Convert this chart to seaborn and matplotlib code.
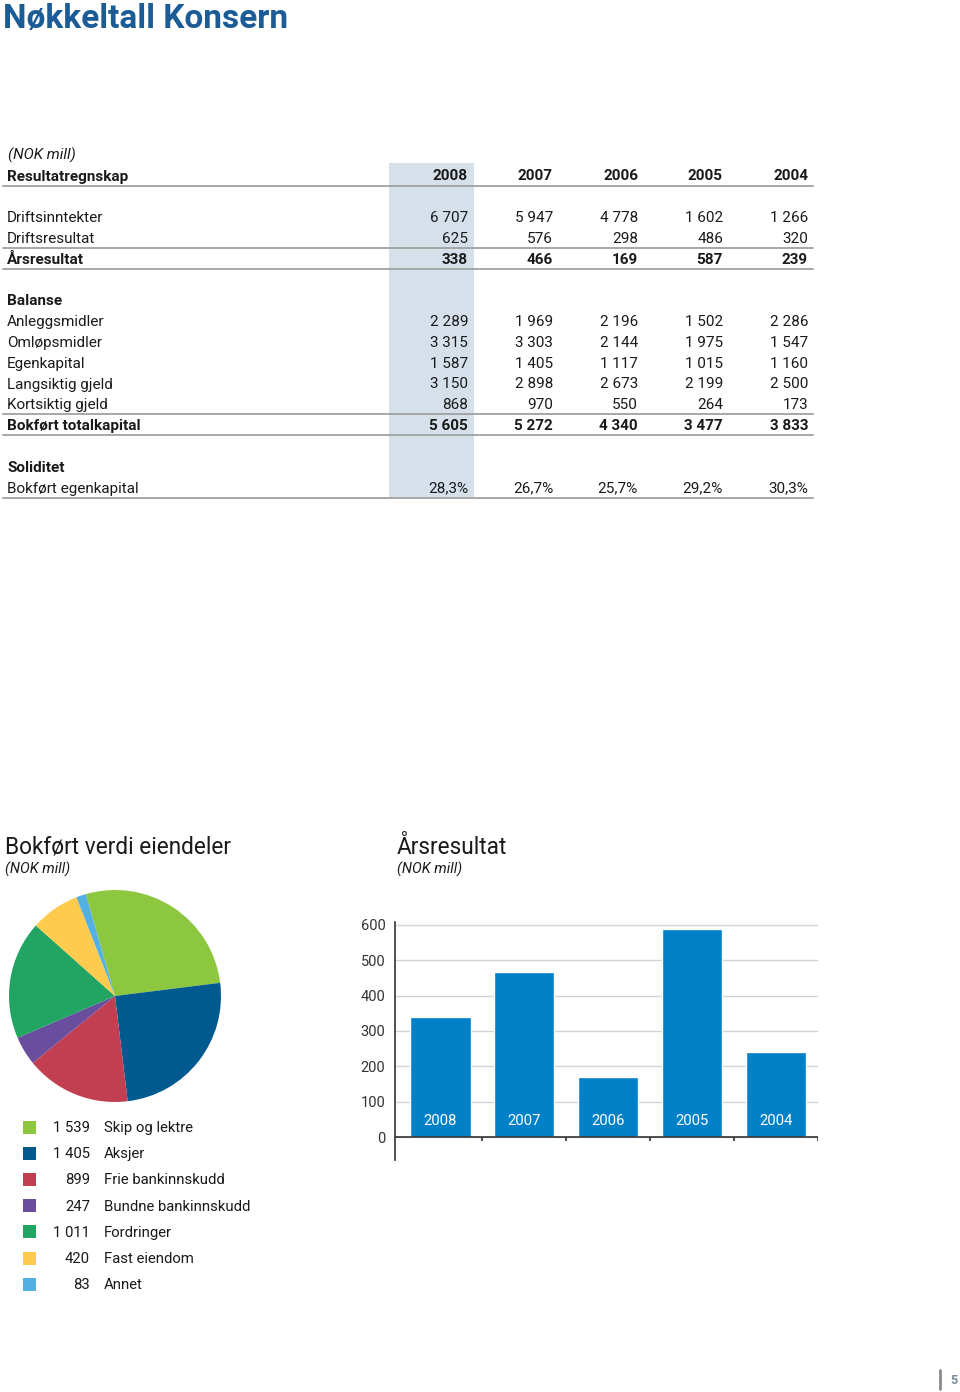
import matplotlib
matplotlib.use("Agg")
import matplotlib.pyplot as plt
import seaborn as sns
import pandas as pd

# table data (NOK mill)
years = ["2008", "2007", "2006", "2005", "2004"]
driftsinntekter = [6707, 5947, 4778, 1602, 1266]
driftsresultat = [625, 576, 298, 486, 320]
arsresultat = [338, 466, 169, 587, 239]
anleggsmidler = [2289, 1969, 2196, 1502, 2286]
omlopsmidler = [3315, 3303, 2144, 1975, 1547]
egenkapital = [1587, 1405, 1117, 1015, 1160]
langsiktig_gjeld = [3150, 2898, 2673, 2199, 2500]
kortsiktig_gjeld = [868, 970, 550, 264, 173]
totalkapital = [5605, 5272, 4340, 3477, 3833]
egenkapital_andel = [28.3, 26.7, 25.7, 29.2, 30.3]

# pie data
asset_labels = ["Skip og lektre", "Aksjer", "Frie bankinnskudd", "Bundne bankinnskudd",
                "Fordringer", "Fast eiendom", "Annet"]
asset_values = [1539, 1405, 899, 247, 1011, 420, 83]
asset_colors = ["#8DC63F", "#005A8F", "#C23F52", "#6A4E9E", "#22A462", "#FFCB4F", "#52B0E2"]

TITLE_BLUE = "#1B5C97"
BAR_BLUE = "#0080C6"
SHADE = "#D6E0EB"
TXT = "#1A1A1A"

sns.set_style("white")
plt.rcParams["font.family"] = ["Roboto", "DejaVu Sans"]

W, H = 960, 1392
fig = plt.figure(figsize=(W / 100, H / 100), dpi=100)

# pixel overlay for text / table
ov = fig.add_axes([0, 0, 1, 1], zorder=0)
ov.set_xlim(0, W)
ov.set_ylim(H, 0)
ov.axis("off")
ov.patch.set_alpha(0)


def nok(v):
    return f"{v:,}".replace(",", " ")


def pct(v):
    return f"{v:.1f}%".replace(".", ",")


ov.text(3, 19, "Nøkkeltall Konsern", fontsize=24, fontweight="bold", color=TITLE_BLUE,
        ha="left", va="center")
ov.text(8, 155, "(NOK mill)", fontsize=11, style="italic", color=TXT, ha="left", va="center")

table_rows = [
    ("Resultatregnskap", years, True, True),
    None,
    ("Driftsinntekter", [nok(v) for v in driftsinntekter], False, False),
    ("Driftsresultat", [nok(v) for v in driftsresultat], False, True),
    ("Årsresultat", [nok(v) for v in arsresultat], True, True),
    None,
    ("Balanse", None, True, False),
    ("Anleggsmidler", [nok(v) for v in anleggsmidler], False, False),
    ("Omløpsmidler", [nok(v) for v in omlopsmidler], False, False),
    ("Egenkapital", [nok(v) for v in egenkapital], False, False),
    ("Langsiktig gjeld", [nok(v) for v in langsiktig_gjeld], False, False),
    ("Kortsiktig gjeld", [nok(v) for v in kortsiktig_gjeld], False, True),
    ("Bokført totalkapital", [nok(v) for v in totalkapital], True, True),
    None,
    ("Soliditet", None, True, False),
    ("Bokført egenkapital", [pct(v) for v in egenkapital_andel], False, True),
]

row0, row_h = 175, 20.8
col_right = [468 + 85 * j for j in range(len(years))]
last_y = row0 + (len(table_rows) - 1) * row_h

# shaded 2008 column
ov.add_patch(plt.Rectangle((389, 163), 85, last_y + 10 - 163, color=SHADE, lw=0, zorder=0))

for i, row in enumerate(table_rows):
    if row is None:
        continue
    label, vals, bold, line = row
    y = row0 + i * row_h
    fw = "bold" if bold else "normal"
    ov.text(7, y + 1.5, label, fontsize=11, fontweight=fw, color=TXT, ha="left", va="center")
    if vals is not None:
        for xr, s in zip(col_right, vals):
            ov.text(xr, y + 1.5, s, fontsize=11, fontweight=fw, color=TXT, ha="right", va="center")
    if line:
        ov.plot([3, 813], [y + 10.5, y + 10.5], color="#A0A0A0", lw=1.3, zorder=1)

# section titles
ov.text(5, 847, "Bokført verdi eiendeler", fontsize=16.3, color=TXT, ha="left", va="center")
ov.text(5, 869, "(NOK mill)", fontsize=10.5, style="italic", color=TXT, ha="left", va="center")
ov.text(397, 847, "Årsresultat", fontsize=16.3, color=TXT, ha="left", va="center")
ov.text(397, 869, "(NOK mill)", fontsize=10.5, style="italic", color=TXT, ha="left", va="center")

# legend for pie
for k, (lab, val, col) in enumerate(zip(asset_labels, asset_values, asset_colors)):
    y = 1127 + k * 26.2
    ov.add_patch(plt.Rectangle((23, y - 6.5), 13, 13, color=col, lw=0))
    ov.text(90, y + 1, nok(val), fontsize=10.7, color=TXT, ha="right", va="center")
    ov.text(104, y + 1, lab, fontsize=10.7, color=TXT, ha="left", va="center")

# page number
ov.plot([940, 940], [1370, 1389], color="#8A8A8A", lw=2)
ov.text(954, 1381, "5", fontsize=9, fontweight="bold", color="#7C8A99", ha="center", va="center")

# pie chart
cx, cy, r = 115, 996, 106
axp = fig.add_axes([(cx - r) / W, 1 - (cy + r) / H, 2 * r / W, 2 * r / H])
axp.pie(asset_values, colors=asset_colors, startangle=106, counterclock=False,
        wedgeprops=dict(linewidth=0))
axp.set_xlim(-1, 1)
axp.set_ylim(-1, 1)

# bar chart
x0, x1, ytop, ybot = 395, 818, 922, 1160
axb = fig.add_axes([x0 / W, 1 - ybot / H, (x1 - x0) / W, (ybot - ytop) / H])
df = pd.DataFrame({"year": years, "value": arsresultat})
sns.barplot(data=df, x="year", y="value", color=BAR_BLUE, saturation=1, width=0.72,
            ax=axb, zorder=3)
axb.set_xlim(-0.54, len(years) - 0.5)
axb.set_ylim(-65, 608)
axb.set_yticks(range(0, 700, 100))
axb.set_xticks([])
axb.set_xlabel("")
axb.set_ylabel("")
axb.grid(axis="y", color="#D3D3D3", lw=1, zorder=0)
axb.axhline(0, color="#333333", lw=1.2, zorder=4)
axb.vlines([i + 0.5 for i in range(len(years))], -11, 0, color="#333333", lw=1.2, zorder=4)
for side in ["top", "right", "bottom"]:
    axb.spines[side].set_visible(False)
axb.spines["left"].set_color("#333333")
axb.spines["left"].set_linewidth(1.2)
axb.tick_params(axis="y", length=0, pad=7, labelsize=10.5, labelcolor="#333333")
for lbl in axb.get_yticklabels():
    lbl.set_va("center_baseline")
for i, y in enumerate(years):
    axb.text(i, 45, y, color="white", fontsize=10.7, ha="center", va="center", zorder=5)

fig.savefig("out.png", dpi=100)
